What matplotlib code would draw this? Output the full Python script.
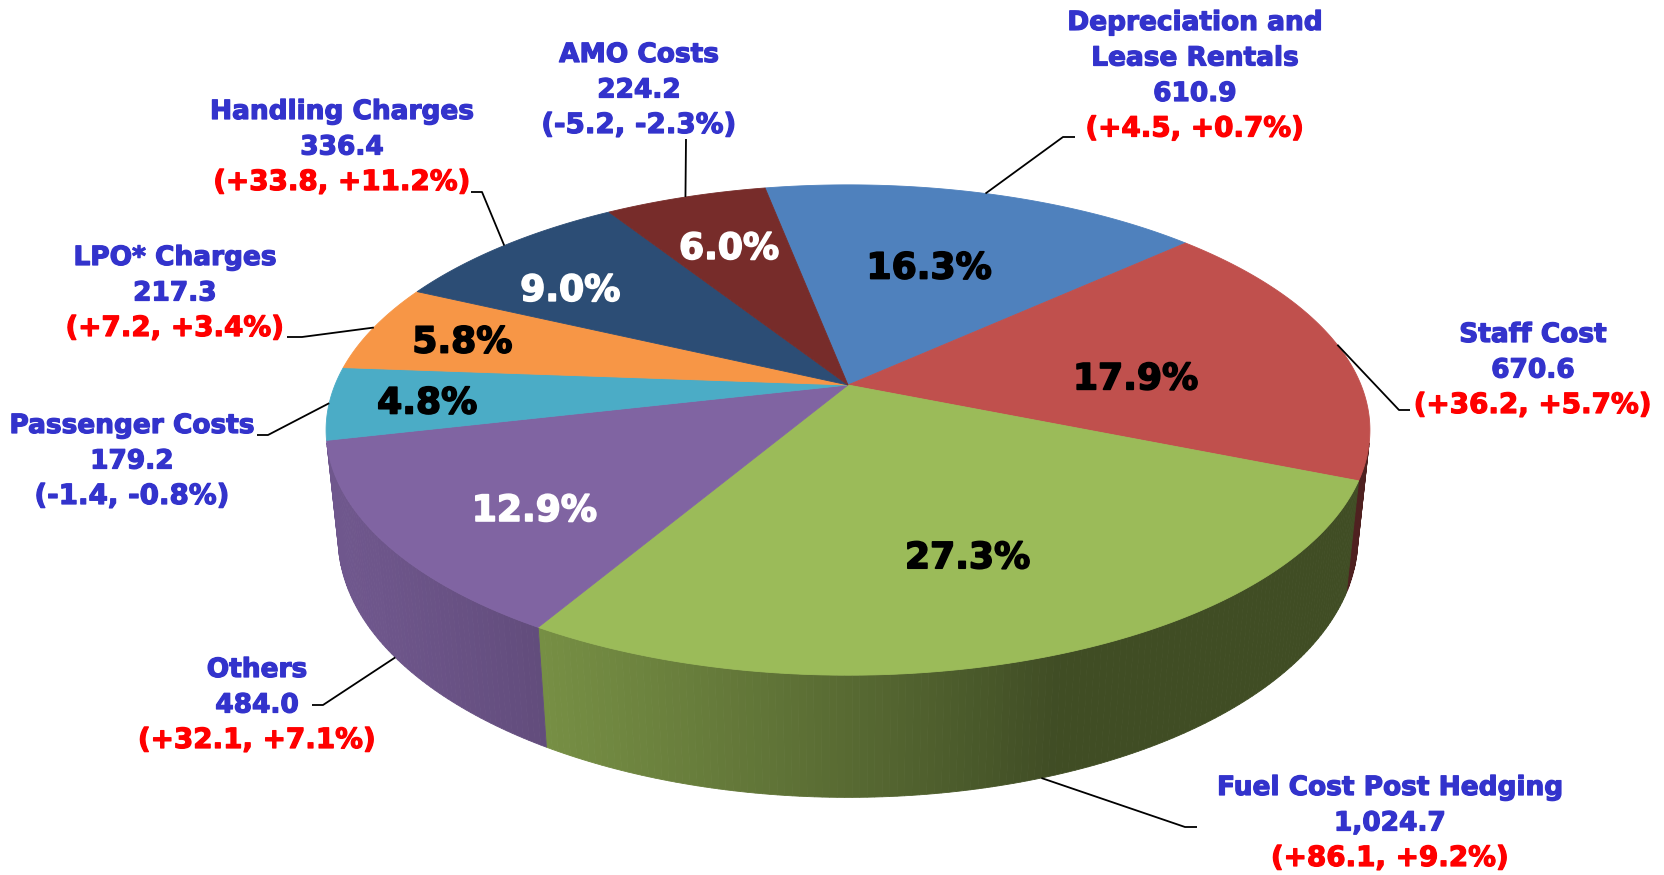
import numpy as np
import matplotlib
matplotlib.use("Agg")
import matplotlib.pyplot as plt
import matplotlib.patheffects as pe
from matplotlib.patches import Polygon
from matplotlib.colors import to_rgb

# slices, clockwise from the back of the pie
categories = [
    "Depreciation and\nLease Rentals",
    "Staff Cost",
    "Fuel Cost Post Hedging",
    "Others",
    "Passenger Costs",
    "LPO* Charges",
    "Handling Charges",
    "AMO Costs",
]
values = [610.9, 670.6, 1024.7, 484.0, 179.2, 217.3, 336.4, 224.2]
change_abs = [4.5, 36.2, 86.1, 32.1, -1.4, 7.2, 33.8, -5.2]
change_pct = [0.7, 5.7, 9.2, 7.1, -0.8, 3.4, 11.2, -2.3]

colors = ["#4F81BD", "#C0504D", "#9BBB59", "#8064A2",
          "#4BACC6", "#F79646", "#2C4D75", "#772C2A"]
pct_colors = ["black", "black", "black", "white",
              "black", "black", "white", "white"]

NAME_BLUE = "#3333CC"
RED = "#FF0000"

# 3d view (pixel units)
CX, CY = 848, 385
FOCAL = 2478
DIST = 4.83
ELEV = np.radians(27.5)
THICK = 0.24
START = -11.0

# label layout
lab_x = [1195, 1533, 1390, 257, 132, 175, 342, 639]
lab_y = [30, 342, 795, 677, 433, 265, 119, 62]
LINE_H = 35.5
lead_start = [(1075, 137), (1410, 410), (1197, 827), (312, 705),
              (257, 435), (287, 337), (471, 192), (686, 139)]
hook = [-12, -11, -12, 11, 11, 15, 11, 0]
pct_r = [0.58, 0.58, 0.67, 0.70, 0.80, 0.80, 0.74, 0.72]
pct_off = [(-4, 2), (0, 18), (-5, 3), (0, 20),
           (-7, 4), (-3, 4), (-16, 12), (3, 5)]


def project(phi_deg, r=1.0, z=0.0):
    phi = np.radians(phi_deg)
    X = r * np.sin(phi)
    Y = r * np.cos(phi)
    s, c = np.sin(ELEV), np.cos(ELEV)
    den = DIST + Y * c - z * s
    u = CX + FOCAL * X / den
    v = CY - FOCAL * (Y * s + z * c) / den
    return u, v


def side_visible(phi_deg):
    return np.cos(np.radians(phi_deg)) < -1.0 / (DIST * np.cos(ELEV))


def shade(phi_deg):
    k = max(0.0, np.cos(np.radians(phi_deg - 250)))
    return 0.41 + 0.46 * k


def heavy(col, w=0.9):
    return [pe.withStroke(linewidth=w, foreground=col)]


total = sum(values)
fracs = np.array(values) / total
edges = START + 360 * np.concatenate([[0], np.cumsum(fracs)])

# visible part of the cylinder wall
vis_lo = np.degrees(np.arccos(-1.0 / (DIST * np.cos(ELEV))))
vis_hi = 360 - vis_lo

fig = plt.figure(figsize=(16.64, 8.75), dpi=100)
ax = fig.add_axes([0, 0, 1, 1])
ax.set_xlim(0, 1664)
ax.set_ylim(875, 0)
ax.axis("off")

# side walls
for i in range(len(values)):
    a0, a1 = max(edges[i], vis_lo), min(edges[i + 1], vis_hi)
    if a1 <= a0:
        continue
    steps = np.linspace(a0, a1, max(2, int((a1 - a0) / 0.7) + 1))
    base = np.array(to_rgb(colors[i]))
    for p0, p1 in zip(steps[:-1], steps[1:]):
        col = base * shade(0.5 * (p0 + p1))
        pts = [project(p0), project(p1),
               project(p1, z=-THICK), project(p0, z=-THICK)]
        ax.add_patch(Polygon(pts, closed=True, facecolor=col,
                             edgecolor=col, linewidth=0.6))

# top faces
for i in range(len(values)):
    arc = np.linspace(edges[i], edges[i + 1], 120)
    pts = [(CX, CY)] + [project(a) for a in arc]
    ax.add_patch(Polygon(pts, closed=True, facecolor=colors[i],
                         edgecolor=colors[i], linewidth=0.6))

# percentage labels
for i in range(len(values)):
    mid = 0.5 * (edges[i] + edges[i + 1])
    x, y = project(mid, r=pct_r[i])
    ax.text(x + pct_off[i][0], y + pct_off[i][1], f"{fracs[i] * 100:.1f}%",
            ha="center", va="center", fontsize=26, fontweight="bold",
            color=pct_colors[i], path_effects=heavy(pct_colors[i], 1.2))

# outside labels with leader lines
for i in range(len(values)):
    lines = categories[i].split("\n") + [f"{values[i]:,.1f}"]
    for k, ln in enumerate(lines):
        ax.text(lab_x[i], lab_y[i] + k * LINE_H, ln, ha="center",
                va="baseline", fontsize=19, fontweight="bold",
                color=NAME_BLUE, path_effects=heavy(NAME_BLUE))
    chg = f"({change_abs[i]:+.1f}, {change_pct[i]:+.1f}%)"
    chg_col = RED if change_abs[i] > 0 else NAME_BLUE
    ax.text(lab_x[i], lab_y[i] + len(lines) * LINE_H, chg, ha="center",
            va="baseline", fontsize=20, fontweight="bold",
            color=chg_col, path_effects=heavy(chg_col))

    mid = 0.5 * (edges[i] + edges[i + 1])
    rim = project(mid, z=-THICK if side_visible(mid) else 0.0)
    sx, sy = lead_start[i]
    ax.plot([sx, sx + hook[i], rim[0]], [sy, sy, rim[1]],
            color="black", linewidth=1.3, solid_capstyle="butt")

fig.savefig("out.png", dpi=100)
